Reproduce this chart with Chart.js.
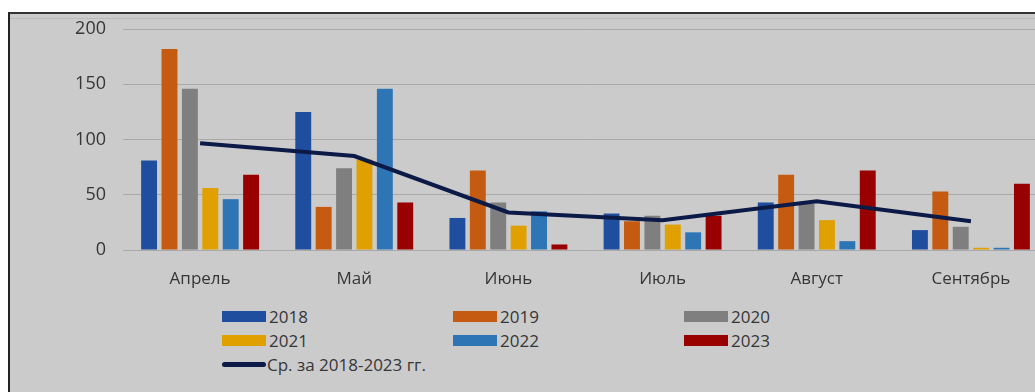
<!DOCTYPE html>
<html lang="ru">
<head>
    <meta charset="UTF-8">
    <title>Ср. за 2018-2023 гг.</title>
    <script src="https://cdn.jsdelivr.net/npm/chart.js"></script>
    <style>
        body { margin: 0; width: 1035px; height: 392px; overflow: hidden; background: #fff; font-family: "Open Sans", "Noto Sans", sans-serif; }
        .frame { position: absolute; left: 8px; top: 12px; width: 1040px; height: 400px; background: #cbcbcb; border-top: 2px solid #333; border-left: 2px solid #222; }
        .innerline { position: absolute; left: 10px; top: 18px; width: 1030px; height: 1px; background: #b9b9b9; }
        .chart-box { position: absolute; left: 0; top: 0; width: 1060px; height: 300px; }
        .legend { position: absolute; left: 222px; top: 306px; display: grid; grid-template-columns: 231px 231px 231px; row-gap: 4px; color: #363636; font-size: 17px; }
        .item { display: flex; align-items: center; height: 20px; }
        .sw { width: 44px; height: 11px; margin-right: 3px; }
        .ln { width: 44px; height: 5px; border-radius: 3px; margin-right: 1px; }
    </style>
</head>
<body>
    <div class="frame"></div>
    <div class="innerline"></div>
    <div class="chart-box"><canvas id="chart"></canvas></div>
    <div class="legend" id="legend"></div>

    <script>
        const months = ['Апрель', 'Май', 'Июнь', 'Июль', 'Август', 'Сентябрь'];
        const years = ['2018', '2019', '2020', '2021', '2022', '2023'];
        const colors = ['#1f4e9e', '#c55a11', '#7f7f7f', '#dfa000', '#2e75b6', '#990000'];

        const v2018 = [81, 125, 29, 33, 43, 18];
        const v2019 = [182, 39, 72, 26, 68, 53];
        const v2020 = [146, 74, 43, 31, 42, 21];
        const v2021 = [56, 82, 22, 23, 27, 2];
        const v2022 = [46, 146, 35, 16, 8, 2];
        const v2023 = [68, 43, 5, 31, 72, 60];
        const avgLabel = 'Ср. за 2018-2023 гг.';
        const avgValues = [96.5, 85, 34, 27, 44, 26];
        const avgColor = '#0c1a48';

        const yTicks = [0, 50, 100, 150, 200];

        const series = [v2018, v2019, v2020, v2021, v2022, v2023];

        const datasets = series.map((vals, i) => ({
            type: 'bar',
            label: years[i],
            data: vals,
            backgroundColor: colors[i],
            barPercentage: 0.78,
            categoryPercentage: 0.794,
            order: 1
        }));
        datasets.push({
            type: 'line',
            label: avgLabel,
            data: avgValues,
            borderColor: avgColor,
            borderWidth: 4,
            pointRadius: 0,
            tension: 0,
            fill: false,
            order: 0
        });

        const family = '"Open Sans", "Noto Sans", sans-serif';

        new Chart(document.getElementById('chart'), {
            type: 'bar',
            data: { labels: months, datasets: datasets },
            options: {
                responsive: true,
                maintainAspectRatio: false,
                animation: false,
                layout: { padding: { top: 29, right: 12, left: 0, bottom: 0 } },
                plugins: { legend: { display: false }, tooltip: { enabled: false } },
                scales: {
                    x: {
                        grid: { display: false },
                        border: { display: false },
                        ticks: { color: '#363636', font: { family: family, size: 17 }, padding: 11 },
                        afterFit: s => { s.height = 50; }
                    },
                    y: {
                        min: 0,
                        max: 200,
                        afterBuildTicks: s => { s.ticks = yTicks.map(v => ({ value: v })); },
                        grid: { color: '#a9a9a9', lineWidth: 1, drawTicks: false },
                        border: { display: false },
                        ticks: { color: '#363636', font: { family: family, size: 18 }, padding: 17 },
                        afterFit: s => { s.width = 123; }
                    }
                }
            }
        });

        // legend in three columns, like the original
        const legend = document.getElementById('legend');
        years.forEach((y, i) => {
            legend.insertAdjacentHTML('beforeend',
                '<div class="item"><span class="sw" style="background:' + colors[i] + '"></span>' + y + '</div>');
        });
        legend.insertAdjacentHTML('beforeend',
            '<div class="item"><span class="ln" style="background:' + avgColor + '"></span>' + avgLabel + '</div>');
    </script>
</body>
</html>
